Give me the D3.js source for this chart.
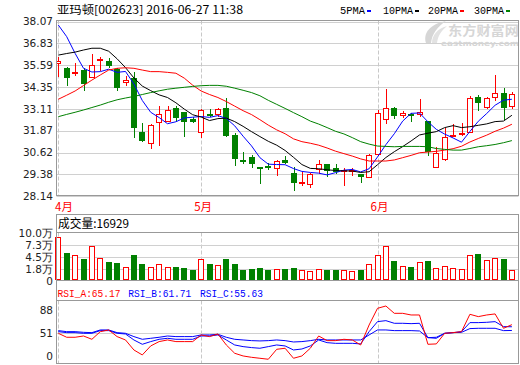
<!DOCTYPE html>
<html><head><meta charset="utf-8">
<script src="https://cdn.jsdelivr.net/npm/d3@7"></script>
<style>body{margin:0;background:#fff}svg{display:block}</style>
</head><body>
<script>
// ---------- data ----------
const title = "亚玛顿[002623] 2016-06-27 11:38";
const monthLabels = ["4月","5月","6月"];
const monthStartIdx = [0,17,38];
const open  = [35.67,35.45,35.09,35.31,34.88,35.90,35.83,35.35,34.56,34.88,31.79,31.09,32.28,32.38,33.13,32.91,32.53,31.71,32.81,32.76,33.13,31.62,30.20,30.39,29.80,29.86,29.71,30.20,29.48,28.93,28.78,29.63,29.97,29.72,29.57,29.53,29.40,29.17,30.48,32.47,33.13,32.70,32.81,32.76,32.41,29.76,30.20,31.56,31.62,31.71,33.80,33.13,33.70,33.99,33.23];
const high  = [36.07,35.50,35.69,35.41,36.20,36.03,36.01,35.41,34.97,35.18,32.28,32.25,33.29,33.29,33.29,32.95,32.66,33.08,33.10,33.13,33.74,31.71,30.63,30.48,29.80,30.01,30.20,30.44,29.82,29.53,29.44,30.20,29.97,29.97,29.72,29.72,29.40,30.52,33.04,34.23,33.21,33.00,32.87,33.67,32.41,30.96,32.00,32.26,32.28,33.84,33.89,33.76,35.03,34.31,34.05];
const low   = [34.93,34.40,34.99,34.12,34.84,35.26,35.41,34.12,34.40,31.43,31.20,30.84,31.01,32.38,32.38,31.52,32.32,31.47,32.66,32.66,31.52,29.88,29.97,29.76,28.85,29.63,29.31,29.97,28.45,28.74,28.59,29.40,29.25,29.38,28.74,29.31,28.87,29.16,30.44,32.23,32.55,32.57,32.38,32.66,30.44,29.76,30.16,31.54,31.56,31.71,33.00,33.10,33.55,32.47,33.10];
const close = [35.83,34.88,35.18,34.52,35.58,35.96,35.54,34.31,34.75,32.04,31.28,32.19,32.79,33.02,32.57,32.38,32.38,33.02,32.76,33.08,31.58,30.24,30.10,29.99,29.76,29.72,30.14,30.05,28.87,28.97,29.40,29.95,29.57,29.53,29.63,29.63,29.25,30.48,32.85,33.13,32.72,32.85,32.68,32.95,30.63,30.58,31.49,31.62,31.71,33.70,33.46,33.70,33.99,33.17,33.93];
const ma5  = [37.87,37.21,36.26,35.41,35.20,35.22,35.36,35.18,35.23,34.52,33.58,32.91,32.61,32.26,32.37,32.59,32.63,32.67,32.62,32.72,32.56,32.14,31.55,31.00,30.33,29.96,29.94,29.93,29.71,29.55,29.49,29.45,29.35,29.48,29.62,29.66,29.52,29.70,30.37,31.07,31.69,32.41,32.85,32.87,32.37,31.94,31.67,31.45,31.21,31.82,32.40,32.84,33.31,33.60,33.65];
const ma10 = [36.16,36.25,36.33,36.45,36.55,36.55,36.38,35.95,35.45,34.86,34.40,34.14,33.90,33.75,33.45,33.09,32.77,32.64,32.44,32.55,32.58,32.38,32.11,31.81,31.53,31.26,31.04,30.74,30.35,29.94,29.72,29.70,29.64,29.60,29.58,29.57,29.49,29.53,29.93,30.34,30.67,30.96,31.28,31.62,31.72,31.81,32.04,32.15,32.04,32.09,32.17,32.25,32.38,32.41,32.74];
const ma20 = [33.65,33.88,34.12,34.43,34.74,35.03,35.31,35.41,35.44,35.41,35.31,35.22,35.22,35.18,35.13,34.85,34.45,34.12,33.92,33.75,33.52,33.26,33.00,32.78,32.49,32.18,31.91,31.69,31.40,31.24,31.15,31.04,30.88,30.70,30.56,30.42,30.26,30.14,30.14,30.14,30.20,30.33,30.46,30.61,30.65,30.69,30.76,30.84,30.98,31.22,31.42,31.61,31.83,32.01,32.23];
const ma30 = [32.66,32.79,32.91,33.04,33.18,33.32,33.48,33.62,33.72,33.81,33.92,34.03,34.13,34.22,34.28,34.33,34.38,34.42,34.44,34.44,34.39,34.28,34.16,34.03,33.85,33.59,33.36,33.13,32.89,32.66,32.41,32.24,32.04,31.83,31.68,31.47,31.24,31.10,30.99,30.97,30.95,30.97,30.97,30.97,30.95,30.85,30.80,30.76,30.76,30.85,30.95,31.01,31.08,31.18,31.30];
const volume = [9.0,5.55,4.97,4.14,6.98,4.30,3.54,3.31,2.28,5.03,3.02,2.28,2.95,2.28,2.42,2.19,1.68,4.07,3.02,2.73,4.14,3.02,1.68,1.83,2.19,1.68,1.83,1.83,2.06,1.68,1.45,1.83,1.68,1.68,1.68,1.45,1.68,3.02,5.03,7.05,3.69,2.50,2.35,3.47,3.69,2.06,2.50,2.06,1.83,4.97,5.26,3.91,4.30,4.14,1.69];
const rsiA = [51.0,44.5,44.5,46.6,41.2,53.7,56.5,45.6,40.1,23.7,15.6,30.3,37.4,40.1,37.4,37.4,37.4,48.3,45.6,49.9,31.9,18.3,13.9,11.7,10.1,8.5,24.8,26.5,10.1,13.9,26.5,46.6,39.0,39.0,41.2,40.1,31.9,64.6,91.9,95.7,83.7,83.7,81.0,81.0,33.0,33.6,51.0,52.1,53.7,82.1,78.3,81.0,82.7,59.2,65.17];
const rsiB = [53.7,52.1,52.1,51.0,51.0,55.4,55.4,51.0,49.9,40.1,33.0,37.4,41.2,42.8,41.2,41.2,41.2,46.6,46.6,48.3,40.1,31.9,29.2,27.6,26.5,29.2,31.9,30.3,23.7,25.3,30.3,40.1,35.7,34.6,34.6,34.6,33.6,53.7,70.1,71.7,67.4,67.4,66.8,67.4,43.9,42.8,51.0,52.1,53.7,68.5,68.5,69.0,70.1,61.9,61.71];
const rsiC = [55.4,53.7,53.7,52.6,52.1,56.5,56.5,52.1,51.0,45.6,41.2,42.8,44.5,46.6,45.6,45.6,45.6,48.3,48.3,49.4,44.5,41.2,40.1,39.0,38.5,39.0,40.1,39.0,36.8,37.4,39.0,41.2,40.1,40.1,40.1,40.1,40.1,48.3,56.5,56.5,55.4,55.4,55.4,54.8,43.9,44.5,51.0,52.1,52.6,58.7,59.2,59.2,59.2,55.4,55.63];
const priceTicks = [38.07,36.83,35.59,34.35,33.11,31.87,30.62,29.38,28.14];
const volTicks = [10.0,7.3,4.5,1.8,0];
const volTickLabels = ["10.0万","7.3万","4.5万","1.8万","0"];
const rsiTicks = [88,51,0];
const maNames = ["5PMA","10PMA","20PMA","30PMA"];
const maColors = ["#0000ff","#000000","#ff0000","#008000"];
const volumeLabel = "成交量:16929";
const rsiHeader = ["RSI_A:65.17","RSI_B:61.71","RSI_C:55.63"];
const rsiColors = ["#ff0000","#0000ff","#0000ff"];

// ---------- layout ----------
const W=520,H=365, L=56.5, R=518.5;
const mainTop=20.5, mainBot=195.5;
const volHeadTop=214.5, volTop=232.5, volBot=280.5;
const rsiTop=300.5, rsiBot=363.5;
const RED="#ff0000", GREEN="#008000", GRID="#d0d0d0", FRAME="#999999";

const svg=d3.select("body").append("svg").attr("width",W).attr("height",H);
const N=close.length;
const x=d3.scaleLinear().domain([0,N-1]).range([58.3,58.3+8.4*(N-1)]);
const yP=d3.scaleLinear().domain([28.14,38.07]).range([196.2,21.5]);
const yV=d3.scaleLinear().domain([0,10]).range([277.5,232.8]);
const yR=d3.scaleLinear().domain([0,100]).range([364.45,303.37]);

const defs=svg.append("defs");
defs.append("clipPath").attr("id","cMain").append("rect").attr("x",L).attr("y",mainTop).attr("width",R-L).attr("height",mainBot-mainTop);
defs.append("clipPath").attr("id","cRsi").append("rect").attr("x",L).attr("y",rsiTop).attr("width",R-L).attr("height",rsiBot-rsiTop);

const axisFont='"DejaVu Sans",sans-serif';
const cjk='"Noto Sans CJK SC",sans-serif';

// title
svg.append("text").attr("x",57).attr("y",14).attr("font-family",'"Noto Sans CJK SC","Liberation Mono",monospace')
  .attr("font-size",11.5).attr("fill","#000").attr("textLength",186).attr("lengthAdjust","spacingAndGlyphs").text(title);

// legend
const legX=[340,383,428,474];
const legW=[25,30,30,30];
maNames.forEach((n,k)=>{
  svg.append("text").attr("x",legX[k]).attr("y",14).attr("font-family",'"Liberation Mono",monospace')
    .attr("font-size",10.5).attr("fill","#000").attr("textLength",legW[k]).attr("lengthAdjust","spacingAndGlyphs").text(n);
  svg.append("rect").attr("x",legX[k]+legW[k]+2).attr("y",10).attr("width",4).attr("height",2).attr("fill",maColors[k]);
});

// gridlines main
svg.append("g").selectAll("line").data(priceTicks).join("line")
  .attr("x1",L).attr("x2",R).attr("y1",d=>Math.round(yP(d))+0.5).attr("y2",d=>Math.round(yP(d))+0.5)
  .attr("stroke",GRID);
// watermark
const wm=svg.append("g").attr("fill","#d6d6d6");
wm.append("path").attr("d","M426,43 C423,33 430,24 446,21 C437,27 432,34 431,43 Z");
wm.append("path").attr("d","M432,43 C432,35 437,29 447,26 C441,31 438,36 437,43 Z").attr("fill","#e2e2e2");
wm.append("text").attr("x",448).attr("y",34.5).attr("font-family",cjk).attr("font-weight","bold").attr("font-size",13)
  .attr("textLength",71).attr("lengthAdjust","spacingAndGlyphs").text("东方财富网");
wm.append("text").attr("x",441).attr("y",45.5).attr("font-family",'"DejaVu Sans",sans-serif').attr("font-weight","bold").attr("font-size",7.5)
  .attr("textLength",78).attr("lengthAdjust","spacingAndGlyphs").text("eastmoney.com");

// month dashed lines
const monthX=monthStartIdx.map(i=>Math.round(x(i))+0.5);
[[mainTop,mainBot],[volTop,volBot],[rsiTop,rsiBot]].forEach(([a,b])=>{
  svg.append("g").selectAll("line").data(monthX).join("line")
    .attr("x1",d=>d).attr("x2",d=>d).attr("y1",a).attr("y2",b)
    .attr("stroke","#c8c8c8").attr("stroke-dasharray","4,2");
});

// volume gridlines
svg.append("g").selectAll("line").data(volTicks.slice(1,4)).join("line")
  .attr("x1",L).attr("x2",R).attr("y1",d=>Math.round(yV(d))+0.5).attr("y2",d=>Math.round(yV(d))+0.5).attr("stroke",GRID);
// rsi gridline
svg.append("line").attr("x1",L).attr("x2",R).attr("y1",Math.round(yR(51))+0.5).attr("y2",Math.round(yR(51))+0.5).attr("stroke",GRID);

// candles
const cg=svg.append("g").attr("clip-path","url(#cMain)");
close.forEach((c,i)=>{
  const o=open[i];
  const cx=Math.round(x(i));
  const up=c>=o;
  const yT=Math.round(yP(Math.max(o,c))), yB=Math.round(yP(Math.min(o,c)));
  const yH=Math.round(yP(high[i])), yL=Math.round(yP(low[i]));
  if(up){
    if(yB-yT<3){
      cg.append("line").attr("x1",cx+0.5).attr("x2",cx+0.5).attr("y1",yH).attr("y2",yL).attr("stroke",RED);
      cg.append("rect").attr("x",cx-3).attr("y",yT).attr("width",6).attr("height",Math.max(2,yB-yT)).attr("fill",RED);
    } else {
      if(yT>yH) cg.append("line").attr("x1",cx+0.5).attr("x2",cx+0.5).attr("y1",yH).attr("y2",yT).attr("stroke",RED);
      if(yL>yB) cg.append("line").attr("x1",cx+0.5).attr("x2",cx+0.5).attr("y1",yB).attr("y2",yL).attr("stroke",RED);
      cg.append("rect").attr("x",cx-2.5).attr("y",yT+0.5).attr("width",5).attr("height",yB-yT-1)
        .attr("fill","#fff").attr("stroke",RED);
    }
  } else {
    cg.append("line").attr("x1",cx+0.5).attr("x2",cx+0.5).attr("y1",yH).attr("y2",yL).attr("stroke",GREEN);
    cg.append("rect").attr("x",cx-3).attr("y",yT).attr("width",6).attr("height",Math.max(2,yB-yT)).attr("fill",GREEN);
  }
});

// MA lines
const line=d3.line().x((d,i)=>x(i)).y(d=>yP(d));
const lg=svg.append("g").attr("clip-path","url(#cMain)");
[ma5,ma10,ma20,ma30].forEach((arr,k)=>{
  lg.append("path").attr("d",line(arr)).attr("fill","none").attr("stroke",maColors[k]).attr("stroke-width",1);
});

// volume bars
const vg=svg.append("g");
const vBase=280;
volume.forEach((v,i)=>{
  const cx=Math.round(x(i));
  const yt=Math.round(yV(v));
  if(close[i]>=open[i]){
    vg.append("rect").attr("x",cx-2.5).attr("y",yt+0.5).attr("width",5).attr("height",vBase-yt-1).attr("fill","#fff").attr("stroke",RED);
  } else {
    vg.append("rect").attr("x",cx-3).attr("y",yt).attr("width",6).attr("height",vBase-yt).attr("fill",GREEN);
  }
});

// RSI lines
const rline=d3.line().x((d,i)=>x(i)).y(d=>yR(d));
const rg=svg.append("g").attr("clip-path","url(#cRsi)");
[rsiC,rsiB,rsiA].forEach((arr,k)=>{
  rg.append("path").attr("d",rline(arr)).attr("fill","none").attr("stroke",[rsiColors[2],rsiColors[1],rsiColors[0]][k]).attr("stroke-width",1);
});

// frames
const fr=svg.append("g").attr("fill","none").attr("stroke",FRAME);
fr.append("rect").attr("x",L).attr("y",mainTop).attr("width",R-L).attr("height",mainBot-mainTop);
fr.append("rect").attr("x",L).attr("y",volHeadTop).attr("width",R-L).attr("height",volBot-volHeadTop);
fr.append("line").attr("x1",L).attr("x2",R).attr("y1",volTop).attr("y2",volTop);
fr.append("rect").attr("x",L).attr("y",volBot).attr("width",R-L).attr("height",rsiBot-volBot);
fr.append("line").attr("x1",L).attr("x2",R).attr("y1",rsiTop).attr("y2",rsiTop);

// price labels
svg.append("g").selectAll("text").data(priceTicks).join("text")
  .attr("x",53).attr("y",d=>yP(d)).attr("dy","0.36em").attr("text-anchor","end")
  .attr("font-family",axisFont).attr("font-size",10.5).attr("fill","#222").text(d=>d.toFixed(2));

// month labels
monthLabels.forEach((m,k)=>{
  const cx=Math.max(x(monthStartIdx[k])+2,64);
  svg.append("text").attr("x",cx).attr("y",211).attr("text-anchor","middle").attr("font-family",cjk)
    .attr("font-size",11.5).attr("fill",RED).text(m);
});

// volume header + labels
svg.append("text").attr("x",58).attr("y",227.5).attr("font-family",cjk).attr("font-size",12).attr("fill","#000")
  .attr("textLength",71).attr("lengthAdjust","spacingAndGlyphs").text(volumeLabel);
svg.append("g").selectAll("text").data(volTicks).join("text")
  .attr("x",53).attr("y",(d,i)=> d===0 ? 281 : yV(d)).attr("dy","0.36em").attr("text-anchor","end")
  .attr("font-family",axisFont).attr("font-size",10.5).attr("fill","#222").text((d,i)=>volTickLabels[i]);

// rsi header + labels
const rhX=[57.5,128.3,200];
rsiHeader.forEach((t,k)=>{
  svg.append("text").attr("x",rhX[k]).attr("y",297).attr("font-family",'"Liberation Mono",monospace')
    .attr("font-size",10).attr("fill",rsiColors[k]).attr("textLength",63).attr("lengthAdjust","spacingAndGlyphs").text(t);
});
svg.append("g").selectAll("text").data(rsiTicks).join("text")
  .attr("x",53).attr("y",d=>Math.min(yR(d),356)).attr("dy","0.36em").attr("text-anchor","end")
  .attr("font-family",axisFont).attr("font-size",10.5).attr("fill","#222").text(d=>d);
</script>
</body></html>
